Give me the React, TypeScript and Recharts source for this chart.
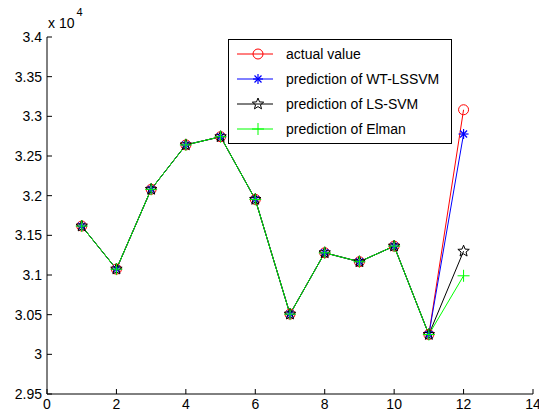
import { LineChart, Line, XAxis, YAxis, Label } from "recharts";

const steps = [1, 2, 3, 4, 5, 6, 7, 8, 9, 10, 11, 12];
const actualValue = [31617, 31074, 32080, 32640, 32743, 31953, 30507, 31280, 31167, 31364, 30250, 33083];
const wtLssvm = [31617, 31074, 32080, 32640, 32743, 31953, 30507, 31280, 31167, 31364, 30250, 32777];
const lsSvm = [31617, 31074, 32080, 32640, 32743, 31953, 30507, 31280, 31167, 31364, 30250, 31300];
const elman = [31617, 31074, 32080, 32640, 32743, 31953, 30507, 31280, 31167, 31364, 30250, 30990];

const xTicks = [0, 2, 4, 6, 8, 10, 12, 14];
const yTicks = [29500, 30000, 30500, 31000, 31500, 32000, 32500, 33000, 33500, 34000];

const data = steps.map((x, i) => ({
  x,
  actual: actualValue[i],
  wt: wtLssvm[i],
  ls: lsSvm[i],
  elman: elman[i],
}));

const FONT = "'Liberation Sans', Arial, sans-serif";

const circleMark = (cx: number, cy: number, key?: string | number) => (
  <circle key={key} cx={cx} cy={cy} r={5} fill="none" stroke="#ff0000" strokeWidth={1} />
);

const asteriskMark = (cx: number, cy: number, key?: string | number) => {
  const r = 5;
  const d = r * 0.7;
  return (
    <g key={key} stroke="#0000ff" strokeWidth={1.2}>
      <line x1={cx - r} y1={cy} x2={cx + r} y2={cy} />
      <line x1={cx} y1={cy - r} x2={cx} y2={cy + r} />
      <line x1={cx - d} y1={cy - d} x2={cx + d} y2={cy + d} />
      <line x1={cx - d} y1={cy + d} x2={cx + d} y2={cy - d} />
    </g>
  );
};

const starMark = (cx: number, cy: number, key?: string | number) => {
  const pts: string[] = [];
  for (let k = 0; k < 10; k++) {
    const rr = k % 2 === 0 ? 6 : 2.6;
    const a = -Math.PI / 2 + (k * Math.PI) / 5;
    pts.push(`${cx + rr * Math.cos(a)},${cy + rr * Math.sin(a)}`);
  }
  return <polygon key={key} points={pts.join(" ")} fill="none" stroke="#000000" strokeWidth={1} />;
};

const plusMark = (cx: number, cy: number, key?: string | number) => {
  const r = 6;
  return (
    <g key={key} stroke="#00ff00" strokeWidth={1}>
      <line x1={cx - r} y1={cy} x2={cx + r} y2={cy} />
      <line x1={cx} y1={cy - r} x2={cx} y2={cy + r} />
    </g>
  );
};

const dotFrom = (mark: (cx: number, cy: number, key?: string | number) => any) => (props: any) =>
  mark(props.cx, props.cy, `d-${props.index}`);

const legendItems = [
  { label: "actual value", color: "#ff0000", mark: circleMark },
  { label: "prediction of WT-LSSVM", color: "#0000ff", mark: asteriskMark },
  { label: "prediction of LS-SVM", color: "#000000", mark: starMark },
  { label: "prediction of Elman", color: "#00ff00", mark: plusMark },
];

const LegendBox = () => (
  <svg width={224} height={105} style={{ display: "block" }}>
    <rect x={0.5} y={0.5} width={223} height={104} fill="#ffffff" stroke="#000000" />
    {legendItems.map((it, i) => {
      const y = 15 + i * 25;
      return (
        <g key={it.label}>
          <line x1={9} y1={y} x2={45} y2={y} stroke={it.color} strokeWidth={1} />
          {it.mark(30, y)}
          <text x={58} y={y + 5} fontSize={14} fontFamily={FONT} fill="#000000">
            {it.label}
          </text>
        </g>
      );
    })}
  </svg>
);

const ExponentLabel = (props: any) => {
  const vb = props.viewBox || { x: 0, y: 37, width: 47 };
  const x = vb.x + vb.width + 1;
  const y = vb.y - 9;
  return (
    <text x={x} y={y} fontSize={14} fontFamily={FONT} fill="#000000">
      x 10
      <tspan dx={2} dy={-12} fontSize={11}>4</tspan>
    </text>
  );
};

const tickStyle = { fontSize: 14, fontFamily: FONT, fill: "#000000" };

export default function App() {
  return (
    <div style={{ position: "absolute", left: 0, top: 0, width: 539, height: 419, background: "#ffffff" }}>
      <LineChart width={539} height={419} data={data} margin={{ top: 37, right: 6, bottom: 0, left: 0 }}>
        <XAxis
          xAxisId="b"
          dataKey="x"
          type="number"
          domain={[0, 14]}
          ticks={xTicks}
          interval={0}
          height={25}
          tickSize={-5}
          tickMargin={10}
          tick={tickStyle}
          axisLine={{ stroke: "#000000" }}
          tickLine={{ stroke: "#000000" }}
        />
        <XAxis
          xAxisId="t"
          orientation="top"
          dataKey="x"
          type="number"
          domain={[0, 14]}
          ticks={xTicks}
          interval={0}
          height={0}
          tickSize={-5}
          tickFormatter={() => ""}
          axisLine={{ stroke: "#000000" }}
          tickLine={{ stroke: "#000000" }}
        />
        <YAxis
          yAxisId="l"
          type="number"
          domain={[29500, 34000]}
          ticks={yTicks}
          interval={0}
          width={47}
          tickSize={-5}
          tickMargin={10}
          tick={tickStyle}
          tickFormatter={(v: number) => String(v / 10000)}
          axisLine={{ stroke: "#000000" }}
          tickLine={{ stroke: "#000000" }}
        >
          <Label position="insideTop" content={<ExponentLabel />} />
        </YAxis>
        <YAxis
          yAxisId="r"
          orientation="right"
          type="number"
          domain={[29500, 34000]}
          ticks={yTicks}
          interval={0}
          width={0}
          tickSize={-5}
          tickFormatter={() => ""}
          axisLine={{ stroke: "#000000" }}
          tickLine={{ stroke: "#000000" }}
        />
        <Line xAxisId="b" yAxisId="l" dataKey="actual" stroke="#ff0000" strokeWidth={1} dot={dotFrom(circleMark)} isAnimationActive={false} />
        <Line xAxisId="b" yAxisId="l" dataKey="wt" stroke="#0000ff" strokeWidth={1} dot={dotFrom(asteriskMark)} isAnimationActive={false} />
        <Line xAxisId="b" yAxisId="l" dataKey="ls" stroke="#000000" strokeWidth={1} dot={dotFrom(starMark)} isAnimationActive={false} />
        <Line xAxisId="b" yAxisId="l" dataKey="elman" stroke="#00ff00" strokeWidth={1} dot={dotFrom(plusMark)} isAnimationActive={false} />
      </LineChart>
      <div style={{ position: "absolute", left: 228, top: 39, width: 224, height: 105 }}>
        <LegendBox />
      </div>
    </div>
  );
}
